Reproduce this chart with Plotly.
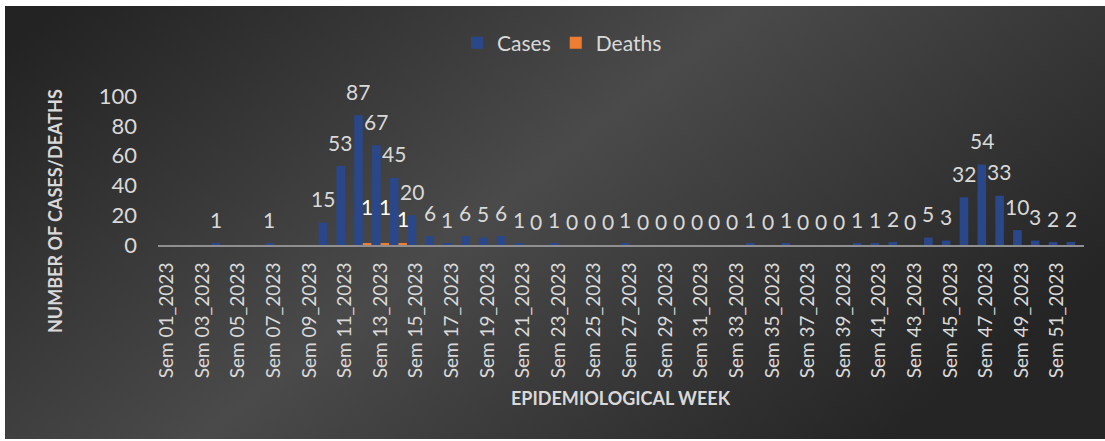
import base64
import plotly.graph_objects as go

# ---------------- data ----------------
weeks = [f"Sem {i:02d}_2023" for i in range(1, 53)]
tick_labels = weeks[::2]

cases = [None, None, None, 1, None, None, 1, None, None, 15,
         53, 87, 67, 45, 20, 6, 1, 6, 5, 6,
         1, 0, 1, 0, 0, 0, 1, 0, 0, 0,
         0, 0, 0, 1, 0, 1, 0, 0, 0, 1,
         1, 2, 0, 5, 3, 32, 54, 33, 10, 3,
         2, 2]
deaths = [None] * 11 + [1, 1, 1] + [None] * 38

# death label vertical offsets (px) – style only
death_label_shift = {11: 37, 12: 37, 13: 25}

FONT = "Lato"
TXT = "#d9d9d9"

# figure geometry (px)
W, H = 1105, 441
L, R, T, B = 158, 21, 96, 196
PW = W - L - R
PH = H - T - B

fig = go.Figure()
fig.add_trace(go.Bar(name="Cases", x=weeks, y=cases,
                     marker=dict(color="#2a4889", line=dict(width=0))))
fig.add_trace(go.Bar(name="Deaths", x=weeks, y=deaths,
                     marker=dict(color="#ed7d31", line=dict(width=0))))

annotations = []
for w, v in zip(weeks, cases):
    if v is None:
        continue
    annotations.append(dict(x=w, y=v, xref="x", yref="y", text=str(v),
                            showarrow=False, xshift=-4.5, yshift=24,
                            yanchor="middle",
                            font=dict(family=FONT, size=21, color=TXT)))
for i, (w, v) in enumerate(zip(weeks, deaths)):
    if v is None:
        continue
    annotations.append(dict(x=w, y=v, xref="x", yref="y", text=str(v),
                            showarrow=False, xshift=4.5,
                            yshift=death_label_shift.get(i, 30),
                            yanchor="middle",
                            font=dict(family=FONT, size=21, color="#ffffff")))

# axis titles
annotations.append(dict(text="<b>NUMBER OF CASES/DEATHS</b>", xref="paper", yref="paper",
                        x=(55 - L) / PW, y=(T + PH - 211) / PH, textangle=-90,
                        showarrow=False, xanchor="center", yanchor="middle",
                        font=dict(family=FONT, size=18, color=TXT)))
annotations.append(dict(text="<b>EPIDEMIOLOGICAL WEEK</b>", xref="paper", yref="paper",
                        x=(621 - L) / PW, y=(T + PH - 398) / PH,
                        showarrow=False, xanchor="center", yanchor="middle",
                        font=dict(family=FONT, size=18, color=TXT)))

# gradient background as svg image
svg = """<svg xmlns='http://www.w3.org/2000/svg' width='1100' height='433' viewBox='0 0 1100 433' preserveAspectRatio='none'>
<defs><linearGradient id='g' x1='0' y1='0.1' x2='1' y2='0.6'>
<stop offset='0' stop-color='#232323'/>
<stop offset='0.5' stop-color='#4a4a4a'/>
<stop offset='1' stop-color='#252525'/>
</linearGradient></defs>
<rect width='1100' height='433' fill='url(#g)'/></svg>"""
src = "data:image/svg+xml;base64," + base64.b64encode(svg.encode()).decode()
bx0, by0, bx1, by1 = 5, 6, 1105, 439
fig.add_layout_image(dict(source=src, xref="paper", yref="paper",
                          x=(bx0 - L) / PW, y=(T + PH - by0) / PH,
                          sizex=(bx1 - bx0) / PW, sizey=(by1 - by0) / PH,
                          xanchor="left", yanchor="top", sizing="stretch",
                          layer="below"))

fig.update_layout(
    width=W, height=H,
    margin=dict(l=L, r=R, t=T, b=B),
    paper_bgcolor="#ffffff",
    plot_bgcolor="rgba(0,0,0,0)",
    barmode="group", bargap=0.04, bargroupgap=0,
    font=dict(family=FONT, color=TXT),
    showlegend=True,
    legend=dict(orientation="h", x=(562 - L) / PW, y=(T + PH - 43) / PH,
                xanchor="center", yanchor="middle",
                font=dict(family=FONT, size=21, color=TXT),
                bgcolor="rgba(0,0,0,0)"),
    annotations=annotations,
)
fig.update_xaxes(type="category", categoryorder="array", categoryarray=weeks,
                 tickmode="array", tickvals=tick_labels, ticktext=tick_labels,
                 tickangle=-90, tickfont=dict(family=FONT, size=19, color=TXT),
                 showline=True, linecolor="#8f8f8f", linewidth=2,
                 showgrid=False, zeroline=False, ticks="", ticklabelstandoff=8)
fig.update_yaxes(range=[0, 100], tickmode="linear", tick0=0, dtick=20,
                 tickfont=dict(family=FONT, size=22, color=TXT),
                 showline=False, showgrid=False, zeroline=False, ticks="",
                 ticklabelstandoff=20)

fig.write_html("out.html", config={"displayModeBar": False},
               post_script="document.body.style.margin='0';document.body.style.padding='0';"
                           "document.body.style.overflow='hidden';"
                           "document.documentElement.style.overflow='hidden';")
